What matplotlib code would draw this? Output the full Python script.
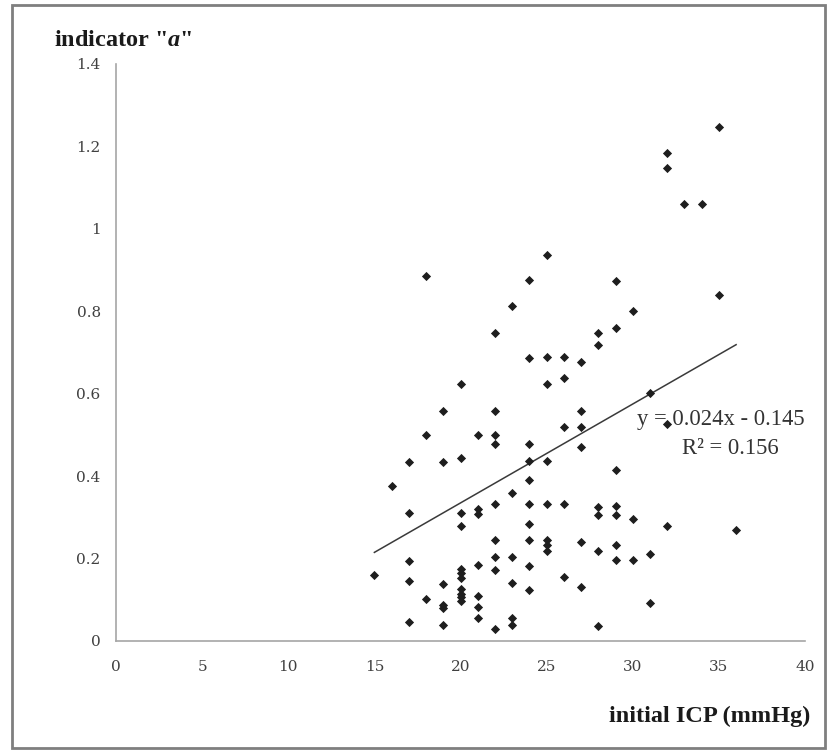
import matplotlib
matplotlib.use('Agg')
import matplotlib.pyplot as plt
import numpy as np
from matplotlib.patches import Rectangle

plt.rcParams['mathtext.fontset'] = 'custom'
plt.rcParams['mathtext.rm'] = 'Liberation Serif'
plt.rcParams['mathtext.it'] = 'Liberation Serif:italic:bold'

# initial ICP (mmHg) -> indicator "a" values
icp = [15,
       16,
       17, 17, 17, 17, 17,
       18, 18, 18,
       19, 19, 19, 19, 19, 19,
       20, 20, 20, 20, 20, 20, 20, 20, 20, 20, 20,
       21, 21, 21, 21, 21, 21, 21,
       22, 22, 22, 22, 22, 22, 22, 22, 22,
       23, 23, 23, 23, 23, 23,
       24, 24, 24, 24, 24, 24, 24, 24, 24, 24,
       25, 25, 25, 25, 25, 25, 25, 25,
       26, 26, 26, 26, 26,
       27, 27, 27, 27, 27, 27,
       28, 28, 28, 28, 28, 28,
       29, 29, 29, 29, 29, 29, 29,
       30, 30, 30,
       31, 31, 31,
       32, 32, 32, 32,
       33,
       34,
       35, 35,
       36]
ind_a = [0.160,
         0.375,
         0.434, 0.311, 0.194, 0.145, 0.047,
         0.886, 0.499, 0.101,
         0.559, 0.434, 0.138, 0.087, 0.080, 0.039,
         0.624, 0.445, 0.311, 0.278, 0.174, 0.164, 0.154, 0.125, 0.115, 0.106, 0.097,
         0.499, 0.321, 0.309, 0.184, 0.109, 0.082, 0.056,
         0.747, 0.559, 0.499, 0.479, 0.332, 0.245, 0.204, 0.172, 0.028,
         0.812, 0.360, 0.204, 0.141, 0.057, 0.039,
         0.876, 0.687, 0.479, 0.437, 0.390, 0.332, 0.285, 0.245, 0.183, 0.123,
         0.936, 0.688, 0.624, 0.437, 0.332, 0.245, 0.232, 0.218,
         0.688, 0.638, 0.519, 0.332, 0.155,
         0.678, 0.559, 0.519, 0.470, 0.239, 0.132,
         0.747, 0.719, 0.324, 0.305, 0.219, 0.036,
         0.874, 0.759, 0.416, 0.328, 0.305, 0.232, 0.196,
         0.800, 0.295, 0.196,
         0.601, 0.210, 0.091,
         1.185, 1.148, 0.527, 0.279,
         1.060,
         1.060,
         1.248, 0.840,
         0.270]

slope = 0.024
intercept = -0.145
r2 = 0.156

x_ticks = [0, 5, 10, 15, 20, 25, 30, 35, 40]
y_ticks = [0, 0.2, 0.4, 0.6, 0.8, 1.0, 1.2, 1.4]
y_labels = ['0', '0.2', '0.4', '0.6', '0.8', '1', '1.2', '1.4']

fig = plt.figure(figsize=(8.28, 7.51), dpi=100)
# outer frame
fig.patches.append(Rectangle((12/828, 3/751), 813/828, 743/751, transform=fig.transFigure,
                             fill=False, edgecolor='#7f7f7f', linewidth=2.0))

ax = fig.add_axes([116/828, 1 - 641/751, 689/828, 577/751])
ax.scatter(icp, ind_a, marker='D', s=22, color='#1e1e1e', zorder=3, linewidths=0)

xs = np.array([min(icp), max(icp)])
ax.plot(xs, slope * xs + intercept, color='#3a3a3a', linewidth=1.1, zorder=2)

ax.set_xlim(0, 40)
ax.set_ylim(0, 1.4)
ax.set_xticks(x_ticks)
ax.set_xticklabels([str(t) for t in x_ticks])
ax.set_yticks(y_ticks)
ax.set_yticklabels(y_labels)
ax.tick_params(length=0, labelsize=11, colors='#404040')
ax.tick_params(axis='x', pad=14)
ax.tick_params(axis='y', pad=11)
for lab in ax.get_xticklabels() + ax.get_yticklabels():
    lab.set_fontfamily('DejaVu Serif')
    lab.set_fontweight('light')
for s in ['top', 'right']:
    ax.spines[s].set_visible(False)
for s in ['left', 'bottom']:
    ax.spines[s].set_color('#a6a6a6')
    ax.spines[s].set_linewidth(1.2)

fig.text(54/828, 1 - 40/751, 'indicator "$a$"', fontsize=17.5, fontweight='bold',
         family='Liberation Serif', va='center', ha='left', color='#1a1a1a')
fig.text(810/828, 1 - 716/751, 'initial ICP (mmHg)', fontsize=17.5, fontweight='bold',
         family='Liberation Serif', va='center', ha='right', color='#1a1a1a')

fig.text(721/828, 1 - 419/751, 'y = %.3fx - %.3f' % (slope, -intercept), fontsize=16.3,
         family='Liberation Serif', ha='center', va='center', color='#333333')
fig.text(730/828, 1 - 448/751, 'R² = %.3f' % r2, fontsize=16.3,
         family='Liberation Serif', ha='center', va='center', color='#333333')

fig.savefig('out.png', dpi=100)
